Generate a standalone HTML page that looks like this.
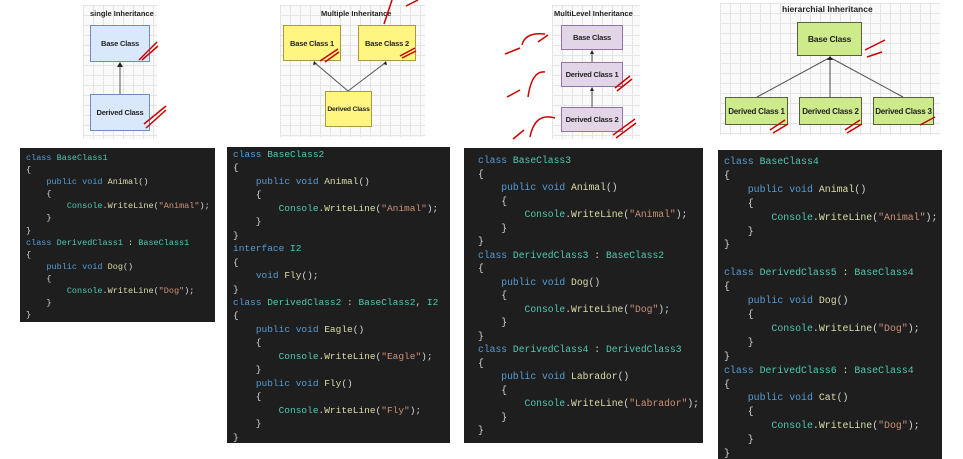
<!DOCTYPE html>
<html><head><style>
body{margin:0;width:963px;height:459px;background:#fff;position:relative;overflow:hidden;font-family:"Liberation Sans",sans-serif}
.grid{position:absolute;background-color:#fafafa;background-image:linear-gradient(#e4e4e4 1px,transparent 1px),linear-gradient(90deg,#e4e4e4 1px,transparent 1px);background-size:10px 10px}
.t{position:absolute;font-size:7.5px;font-weight:bold;color:#222;white-space:nowrap}
.b{position:absolute;display:flex;align-items:center;justify-content:center;font-size:7.5px;font-weight:bold;color:#222;box-sizing:border-box;white-space:nowrap;letter-spacing:-0.2px}
.bl{background:#dae8fc;border:1px solid #6c8ebf}
.ye{background:#fff580;border:1px solid #a89a40}
.pu{background:#e1d5e7;border:1px solid #9673a6}
.gr{background:#cdeb8b;border:1px solid #56603a}
.code{position:absolute;background:#1e1e1e;margin:0;font-family:"Liberation Mono",monospace;color:#d4d4d4;white-space:pre;box-sizing:border-box;padding-left:6px;overflow:hidden}
.k{color:#569cd6}.c{color:#4ec9b0}.m{color:#dcdcaa}.s{color:#ce9178}
svg{position:absolute;left:0;top:0}
</style></head><body>
<div class="grid" style="left:83px;top:5px;width:74px;height:134px"></div>
<div class="grid" style="left:280px;top:5px;width:145px;height:132px"></div>
<div class="grid" style="left:552px;top:5px;width:88px;height:134px"></div>
<div class="grid" style="left:720px;top:3px;width:220px;height:132px"></div>
<div class="t" style="left:90px;top:9px">single Inheritance</div>
<div class="t" style="left:321px;top:9px">Multiple Inheritance</div>
<div class="t" style="left:554px;top:9px">MultiLevel Inheritance</div>
<div class="t" style="left:782px;top:4px;font-size:8.5px">hierarchial Inheritance</div>
<div class="b bl" style="left:90px;top:25px;width:60px;height:37px">Base Class</div>
<div class="b bl" style="left:90px;top:94px;width:60px;height:37px">Derived Class</div>
<div class="b ye" style="left:283px;top:25px;width:58px;height:36px">Base Class 1</div>
<div class="b ye" style="left:358px;top:25px;width:58px;height:36px">Base Class 2</div>
<div class="b ye" style="left:325px;top:91px;width:47px;height:36px;font-size:6.8px">Derived Class</div>
<div class="b pu" style="left:561px;top:25px;width:62px;height:25px">Base Class</div>
<div class="b pu" style="left:561px;top:62px;width:62px;height:25px">Derived Class 1</div>
<div class="b pu" style="left:561px;top:107px;width:62px;height:25px">Derived Class 2</div>
<div class="b gr" style="left:797px;top:22px;width:65px;height:34px;font-size:8.5px">Base Class</div>
<div class="b gr" style="left:725px;top:97px;width:63px;height:28px;font-size:8px">Derived Class 1</div>
<div class="b gr" style="left:799px;top:97px;width:63px;height:28px;font-size:8px">Derived Class 2</div>
<div class="b gr" style="left:873px;top:97px;width:61px;height:28px;font-size:8px">Derived Class 3</div>
<svg width="963" height="459">
<g stroke="#555" stroke-width="1" fill="none">
<line x1="120" y1="94" x2="120" y2="66"/>
<line x1="348" y1="91" x2="315" y2="63"/><line x1="348" y1="91" x2="385" y2="63"/>
<line x1="592" y1="62" x2="592" y2="53"/><line x1="592" y1="107" x2="592" y2="90"/>
<line x1="757" y1="97" x2="829" y2="58"/><line x1="830" y1="97" x2="830" y2="58"/><line x1="903" y1="97" x2="831" y2="58"/>
</g>
<g fill="#222"><polygon points="120,62 117,67 123,67"/><polygon points="592,50 590,54 594,54"/><polygon points="592,87 590,91 594,91"/><polygon points="830,56 827,60 833,60"/><polygon points="314,61 313,65 317,64"/><polygon points="386,61 383,64 387,65"/></g>
<g stroke="#c00" stroke-width="1.5" fill="none">
<path d="M139 60 L157 42 M142 60 L158 46"/><path d="M144 124 L166 106 M146 128 L166 110"/>
<path d="M320 61 L338 49 M325 62 L339 52"/><path d="M400 56 L415 48 M402 58 L416 51"/>
<path d="M384 24 L392 0 M406 6 L418 0"/>
<path d="M505 54 L520 48 M522 45 Q525 32 545 34 M538 42 L548 35"/><path d="M507 97 L520 90 M528 97 Q532 70 545 72"/><path d="M513 139 L524 130 M530 137 Q535 112 555 118"/>
<path d="M615 88 L630 76 M617 91 L632 79"/><path fill="none" d="M613 135 L635 119 M616 138 L636 123"/>
<path d="M865 50 L885 40 M867 57 L882 52"/><path d="M770 130 L785 120 M773 133 L788 124"/><path d="M845 130 L860 120 M847 133 L862 124"/><path d="M920 125 L935 117"/>
<path d="M101 160 L128 150 M104 162 L126 153"/><path d="M115 242 L128 238"/><path d="M185 254 L200 243"/>
<path d="M300 253 L323 247"/><path d="M400 318 L418 307 M430 300 Q445 310 425 318 M428 333 L438 340 L448 345 M430 345 L440 330"/>
<path d="M592 172 L610 165"/><path d="M650 260 L665 250 M655 267 L668 258"/><path d="M675 355 L700 345"/>
<path d="M790 166 L810 160"/><path d="M915 280 L930 274 M915 290 L930 284"/><path d="M912 386 L930 380"/>
</g>
</svg>
<pre class="code" style="left:20px;top:148px;width:195px;height:174px;line-height:12.1px;padding-top:4px;font-size:8.5px"><span class="k">class</span> <span class="c">BaseClass1</span>
{
    <span class="k">public void</span> <span class="m">Animal</span>()
    {
        <span class="c">Console</span>.<span class="m">WriteLine</span>(<span class="s">"Animal"</span>);
    }
}
<span class="k">class</span> <span class="c">DerivedClass1</span> : <span class="c">BaseClass1</span>
{
    <span class="k">public void</span> <span class="m">Dog</span>()
    {
        <span class="c">Console</span>.<span class="m">WriteLine</span>(<span class="s">"Dog"</span>);
    }
}</pre>
<pre class="code" style="left:227px;top:147px;width:223px;height:296px;line-height:13.45px;padding-top:1px;font-size:9.5px"><span class="k">class</span> <span class="c">BaseClass2</span>
{
    <span class="k">public void</span> <span class="m">Animal</span>()
    {
        <span class="c">Console</span>.<span class="m">WriteLine</span>(<span class="s">"Animal"</span>);
    }
}
<span class="k">interface</span> <span class="c">I2</span>
{
    <span class="k">void</span> <span class="m">Fly</span>();
}
<span class="k">class</span> <span class="c">DerivedClass2</span> : <span class="c">BaseClass2</span>, <span class="c">I2</span>
{
    <span class="k">public void</span> <span class="m">Eagle</span>()
    {
        <span class="c">Console</span>.<span class="m">WriteLine</span>(<span class="s">"Eagle"</span>);
    }
    <span class="k">public void</span> <span class="m">Fly</span>()
    {
        <span class="c">Console</span>.<span class="m">WriteLine</span>(<span class="s">"Fly"</span>);
    }
}</pre>
<pre class="code" style="left:464px;top:148px;width:239px;height:295px;line-height:13.5px;padding-top:6px;padding-left:14px;font-size:9.7px"><span class="k">class</span> <span class="c">BaseClass3</span>
{
    <span class="k">public void</span> <span class="m">Animal</span>()
    {
        <span class="c">Console</span>.<span class="m">WriteLine</span>(<span class="s">"Animal"</span>);
    }
}
<span class="k">class</span> <span class="c">DerivedClass3</span> : <span class="c">BaseClass2</span>
{
    <span class="k">public void</span> <span class="m">Dog</span>()
    {
        <span class="c">Console</span>.<span class="m">WriteLine</span>(<span class="s">"Dog"</span>);
    }
}
<span class="k">class</span> <span class="c">DerivedClass4</span> : <span class="c">DerivedClass3</span>
{
    <span class="k">public void</span> <span class="m">Labrador</span>()
    {
        <span class="c">Console</span>.<span class="m">WriteLine</span>(<span class="s">"Labrador"</span>);
    }
}</pre>
<pre class="code" style="left:718px;top:150px;width:224px;height:309px;line-height:13.9px;padding-top:5px;font-size:9.9px"><span class="k">class</span> <span class="c">BaseClass4</span>
{
    <span class="k">public void</span> <span class="m">Animal</span>()
    {
        <span class="c">Console</span>.<span class="m">WriteLine</span>(<span class="s">"Animal"</span>);
    }
}

<span class="k">class</span> <span class="c">DerivedClass5</span> : <span class="c">BaseClass4</span>
{
    <span class="k">public void</span> <span class="m">Dog</span>()
    {
        <span class="c">Console</span>.<span class="m">WriteLine</span>(<span class="s">"Dog"</span>);
    }
}
<span class="k">class</span> <span class="c">DerivedClass6</span> : <span class="c">BaseClass4</span>
{
    <span class="k">public void</span> <span class="m">Cat</span>()
    {
        <span class="c">Console</span>.<span class="m">WriteLine</span>(<span class="s">"Dog"</span>);
    }
}</pre>
</body></html>
